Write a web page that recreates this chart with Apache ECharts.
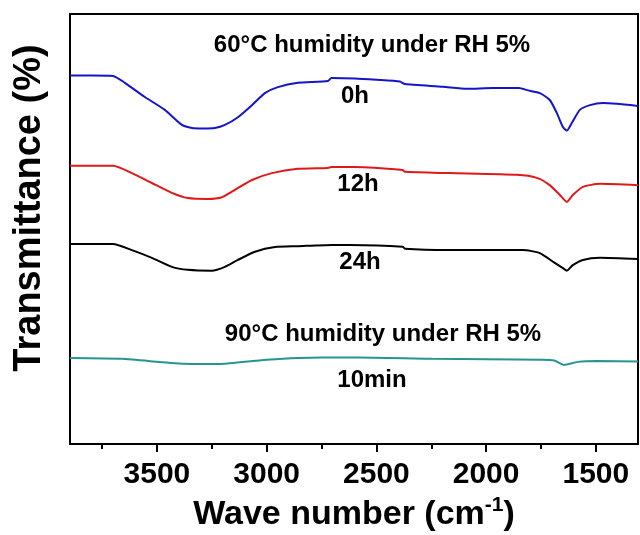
<!DOCTYPE html>
<html>
<head>
<meta charset="utf-8">
<script src="https://cdn.jsdelivr.net/npm/echarts@6/dist/echarts.min.js"></script>
<style>html,body{margin:0;padding:0;background:#fff}#c{width:640px;height:535px}</style>
</head>
<body>
<div id="c"></div>
<script>
// ---- data (wavenumber in cm^-1, transmittance in a.u.) ----
const blueWn = [3896,3800,3700,3646,3555,3464,3386,3340,3290,3236,3190,3131,3067,3008,2949,2858,2721,2705,2598,2500,2393,2370,2197,2088,1969,1850,1814,1755,1710,1678,1650,1632,1609,1573,1527,1468,1404,1308];
const blueT  = [85.7,85.7,85.6,84.0,80.7,77.7,74.2,73.5,73.4,73.5,74.2,76.0,78.8,81.6,83.0,84.0,84.4,85.1,85.0,84.7,84.3,83.7,83.1,82.6,82.8,82.8,82.3,81.6,80.0,77.0,73.7,72.9,74.7,77.7,78.8,79.3,79.1,78.6];

const redWn = [3896,3700,3614,3523,3432,3359,3268,3204,3145,3067,2976,2858,2721,2705,2600,2380,2370,2165,1860,1769,1710,1664,1632,1605,1559,1482,1308];
const redT  = [64.7,64.7,63.0,60.7,58.4,57.2,57.0,57.4,59.1,61.4,63.0,64.0,64.2,64.4,64.4,63.7,63.3,63.0,62.6,61.9,60.2,57.9,56.3,57.9,59.8,60.5,60.2];

const blackWn = [3896,3700,3614,3523,3432,3359,3250,3190,3131,3053,2962,2858,2703,2621,2380,2370,2165,1832,1755,1696,1650,1632,1605,1559,1482,1308];
const blackT  = [46.5,46.5,45.1,43.3,41.2,40.5,40.3,41.2,42.8,44.7,45.8,46.0,46.3,46.3,45.9,45.4,45.1,45.1,44.4,42.4,40.9,40.3,41.6,42.8,43.3,43.0];

const tealWn = [3896,3660,3418,3250,3167,3000,2750,2584,2247,1746,1690,1646,1582,1495,1308];
const tealT  = [20.0,19.8,18.8,18.6,18.8,19.6,20.1,20.1,19.8,19.6,19.4,18.4,19.1,19.3,19.2];

const majorTicks = [3500,3000,2500,2000,1500];
const minorTicks = [3750,3250,2750,2250,1750];

const seriesNames = ['0h','12h','24h','10min'];
const groupTitles = ['60\u00B0C humidity under RH 5%','90\u00B0C humidity under RH 5%'];
const yTitle = 'Transmittance (%)';

// ---- chart ----
const FONT = '"Liberation Sans", Arial, Helvetica, sans-serif';
const pair = (xs, ys) => xs.map((x, i) => [x, ys[i]]);

const chart = echarts.init(document.getElementById('c'), null, {renderer: 'canvas'});

function txt(text, x, y, size, extra) {
  return Object.assign({
    type: 'text', x: x, y: y, z: 100,
    style: {text: text, fontSize: size, fontWeight: 'bold', fontFamily: FONT, fill: '#000',
            align: 'center', verticalAlign: 'middle'}
  }, extra || {});
}

const line = (name, data, color) => ({
  name: name, type: 'line', data: data, showSymbol: false, smooth: 0.2,
  lineStyle: {color: color, width: 2}, itemStyle: {color: color}, silent: true
});

chart.setOption({
  animation: false,
  backgroundColor: '#fff',
  grid: {left: 70, right: 2, top: 14, bottom: 91, show: true, borderColor: '#000', borderWidth: 2,
         outerBoundsMode: 'none', containLabel: false},
  xAxis: [{
    type: 'value', inverse: true, min: 1308, max: 3896,
    axisLine: {show: true, lineStyle: {color: '#000', width: 2}},
    axisTick: {show: true, customValues: majorTicks, length: 8, lineStyle: {color: '#000', width: 2}},
    axisLabel: {customValues: majorTicks, formatter: v => String(v), fontSize: 30, fontWeight: 'bold', color: '#000', fontFamily: FONT, margin: 16},
    splitLine: {show: false},
    name: '{m|Wave number (cm}{s|-1}{m|)}',
    nameLocation: 'middle', nameGap: 51,
    nameTextStyle: {
      rich: {
        m: {fontSize: 34, fontWeight: 'bold', fontFamily: FONT, color: '#000', lineHeight: 40},
        s: {fontSize: 21, fontWeight: 'bold', fontFamily: FONT, color: '#000', lineHeight: 20, verticalAlign: 'top'}
      }
    }
  }, {
    type: 'value', inverse: true, min: 1308, max: 3896, position: 'bottom',
    axisLine: {show: false},
    axisTick: {show: true, customValues: minorTicks, length: 5, lineStyle: {color: '#000', width: 2}},
    axisLabel: {show: false},
    splitLine: {show: false}
  }],
  yAxis: {
    type: 'value', min: 0, max: 100,
    axisLine: {show: false}, axisTick: {show: false}, axisLabel: {show: false}, splitLine: {show: false}
  },
  series: [
    line(seriesNames[0], pair(blueWn, blueT), '#1414c8'),
    line(seriesNames[1], pair(redWn, redT), '#e01818'),
    line(seriesNames[2], pair(blackWn, blackT), '#000000'),
    line(seriesNames[3], pair(tealWn, tealT), '#22968f')
  ],
  graphic: [
    txt(yTitle, 30, 208, 38, {rotation: Math.PI / 2}),
    txt(groupTitles[0], 372, 45, 24),
    txt(seriesNames[0], 355, 96, 24),
    txt(seriesNames[1], 358, 184, 24),
    txt(seriesNames[2], 360, 262, 24),
    txt(groupTitles[1], 383, 334, 24),
    txt(seriesNames[3], 372, 380, 24)
  ]
});
</script>
</body>
</html>
